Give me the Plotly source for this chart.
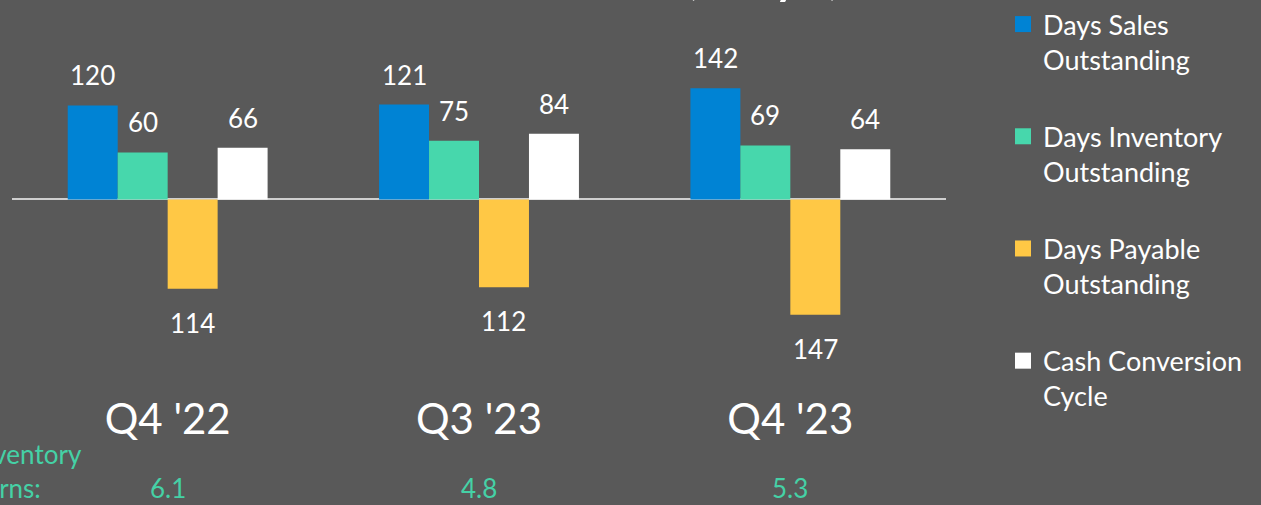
import plotly.graph_objects as go

# Quarterly working-capital metrics (days)
quarters = ["Q4 '22", "Q3 '23", "Q4 '23"]
dso = [120, 121, 142]          # Days Sales Outstanding
dio = [60, 75, 69]             # Days Inventory Outstanding
dpo = [114, 112, 147]          # Days Payable Outstanding (drawn below zero)
ccc = [66, 84, 64]             # Cash Conversion Cycle
inventory_turns = ["6.1", "4.8", "5.3"]

series_names = [
    "Days Sales<br>Outstanding",
    "Days Inventory<br>Outstanding",
    "Days Payable<br>Outstanding",
    "Cash Conversion<br>Cycle",
]
series_colors = ["#0083d4", "#47d7ac", "#ffc845", "#ffffff"]
series_values = [dso, dio, [-v for v in dpo], ccc]

BG = "#595959"
TEAL_TEXT = "#45d1a6"
FONT = "Lato"

W, H = 1261, 505
M_L, M_R, M_T, M_B = 12, 315, 0, 114
BARGAP = 0.358
plot_w = W - M_L - M_R
plot_h = H - M_T - M_B


def px_x(p):
    """page x pixel -> paper x"""
    return (p - M_L) / plot_w


def px_y(p):
    """page y pixel (from top) -> paper y"""
    return (H - M_B - p) / plot_h


fig = go.Figure()

for name, color, vals in zip(series_names, series_colors, series_values):
    fig.add_trace(go.Bar(
        x=quarters, y=vals, marker=dict(color=color, line=dict(width=0)),
        showlegend=False, hoverinfo="skip",
    ))

# legend entries with larger square swatches
for i, (name, color) in enumerate(zip(series_names, series_colors)):
    fig.add_trace(go.Scatter(
        x=[None], y=[None], mode="markers", name=name,
        marker=dict(symbol="square", size=17, color=color, line=dict(width=0)),
        legendgroup=f"g{i}", showlegend=True,
    ))

# value labels above / below each bar
cat_w = plot_w / len(quarters)
bar_w = cat_w * (1 - BARGAP) / len(series_values)
annotations = []
for k, vals in enumerate(series_values):
    dx = (k - (len(series_values) - 1) / 2) * bar_w
    for q, v in zip(quarters, vals):
        pos = v >= 0
        annotations.append(dict(
            x=q, y=v, xref="x", yref="y", xshift=dx,
            text=str(abs(v)), showarrow=False,
            yanchor="bottom" if pos else "top",
            yshift=12 if pos else -16,
            font=dict(family=FONT, size=26, color="#ffffff"),
        ))

# inventory turns row
for q, t in zip(quarters, inventory_turns):
    annotations.append(dict(
        x=q, y=px_y(507), xref="x", yref="paper", text=t, showarrow=False,
        yanchor="bottom", font=dict(family=FONT, size=26, color=TEAL_TEXT),
    ))
annotations.append(dict(
    x=px_x(-30), y=px_y(507), xref="paper", yref="paper",
    text="Inventory<br>Turns:", showarrow=False, align="left",
    xanchor="left", yanchor="bottom",
    font=dict(family=FONT, size=26, color=TEAL_TEXT),
))

# chart title
annotations.append(dict(
    x=px_x(762), y=px_y(4), xref="paper", yref="paper",
    text="Cash Conversion Cycle<br>(Days)", showarrow=False,
    xanchor="center", yanchor="bottom",
    font=dict(family=FONT, size=60, color="#ffffff"),
))

fig.update_layout(
    width=W, height=H,
    margin=dict(l=M_L, r=M_R, t=M_T, b=M_B, pad=0),
    paper_bgcolor=BG, plot_bgcolor=BG,
    barmode="group", bargap=BARGAP, bargroupgap=0,
    font=dict(family=FONT, color="#ffffff"),
    xaxis=dict(
        type="category", range=[-0.5, 2.5], showgrid=False, showline=False,
        zeroline=False, ticks="", tickfont=dict(family=FONT, size=42, color="#ffffff"),
    ),
    yaxis=dict(
        range=[-(plot_h - 198) / 0.79, 198 / 0.79], showgrid=False, showticklabels=False,
        zeroline=True, zerolinecolor="#cfcfcf", zerolinewidth=2,
    ),
    legend=dict(
        x=px_x(1003), y=px_y(-3), xanchor="left", yanchor="top",
        bgcolor="rgba(0,0,0,0)", font=dict(family=FONT, size=27, color="#ffffff"),
        valign="top", tracegroupgap=39, itemsizing="trace", maxheight=500,
    ),
    annotations=annotations,
    showlegend=True,
)

fig.write_html("out.html")
